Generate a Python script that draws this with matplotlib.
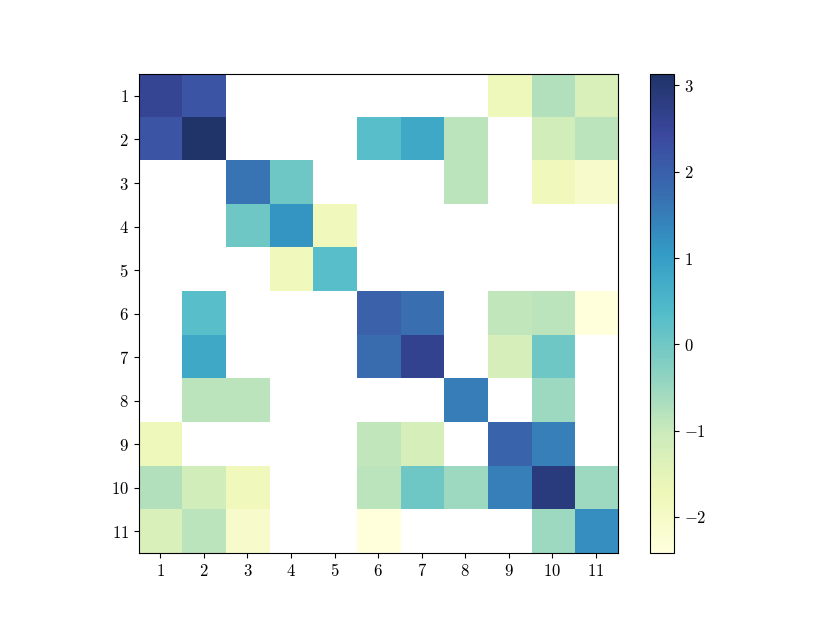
import numpy as np
import matplotlib
matplotlib.use('Agg')
import matplotlib.pyplot as plt
from matplotlib.ticker import FuncFormatter

plt.rcParams['mathtext.fontset'] = 'cm'
plt.rcParams['font.family'] = 'serif'

n = np.nan
# matrix values (blank cells = nan)
row1 = [2.55, 2.20, n, n, n, n, n, n, -1.73, -0.73, -1.31]
row2 = [2.22, 3.13, n, n, n, 0.30, 0.80, -0.85, n, -1.14, -0.85]
row3 = [n, n, 1.65, 0.02, n, n, n, -0.85, n, -1.80, -2.11]
row4 = [n, n, 0.02, 1.15, -1.80, n, n, n, n, n, n]
row5 = [n, n, n, -1.80, 0.30, n, n, n, n, n, n]
row6 = [n, 0.30, n, n, n, 1.98, 1.75, n, -0.92, -0.85, -2.40]
row7 = [n, 0.80, n, n, n, 1.78, 2.65, n, -1.22, 0.02, n]
row8 = [n, -0.85, -0.85, n, n, n, n, 1.52, n, -0.52, n]
row9 = [-1.78, n, n, n, n, -0.92, -1.22, n, 1.95, 1.48, n]
row10 = [-0.73, -1.14, -1.80, n, n, -0.85, 0.02, -0.52, 1.48, 2.85, -0.52]
row11 = [-1.30, -0.85, -2.10, n, n, -2.42, n, n, n, -0.52, 1.25]

labels = list(range(1, 12))
cbar_ticks = [-2, -1, 0, 1, 2, 3]

M = np.ma.masked_invalid(np.array([row1, row2, row3, row4, row5, row6,
                                   row7, row8, row9, row10, row11]))

fig = plt.figure(figsize=(8.3, 6.23), dpi=100)
ax = fig.add_axes([0.166, 0.112, 0.579, 0.769])
cax = fig.add_axes([0.783, 0.112, 0.029, 0.769])

im = ax.imshow(M, cmap='YlGnBu', alpha=0.9, interpolation='nearest',
               extent=(0.5, 11.5, 11.5, 0.5))

mfmt = FuncFormatter(lambda v, p: r'$%d$' % round(v))
ax.set_xticks(labels)
ax.set_yticks(labels)
ax.xaxis.set_major_formatter(mfmt)
ax.yaxis.set_major_formatter(mfmt)
ax.tick_params(labelsize=12)

cb = fig.colorbar(im, cax=cax, ticks=cbar_ticks)
cb.ax.yaxis.set_major_formatter(mfmt)
cb.ax.tick_params(labelsize=12)

fig.savefig('out.png', dpi=100)
